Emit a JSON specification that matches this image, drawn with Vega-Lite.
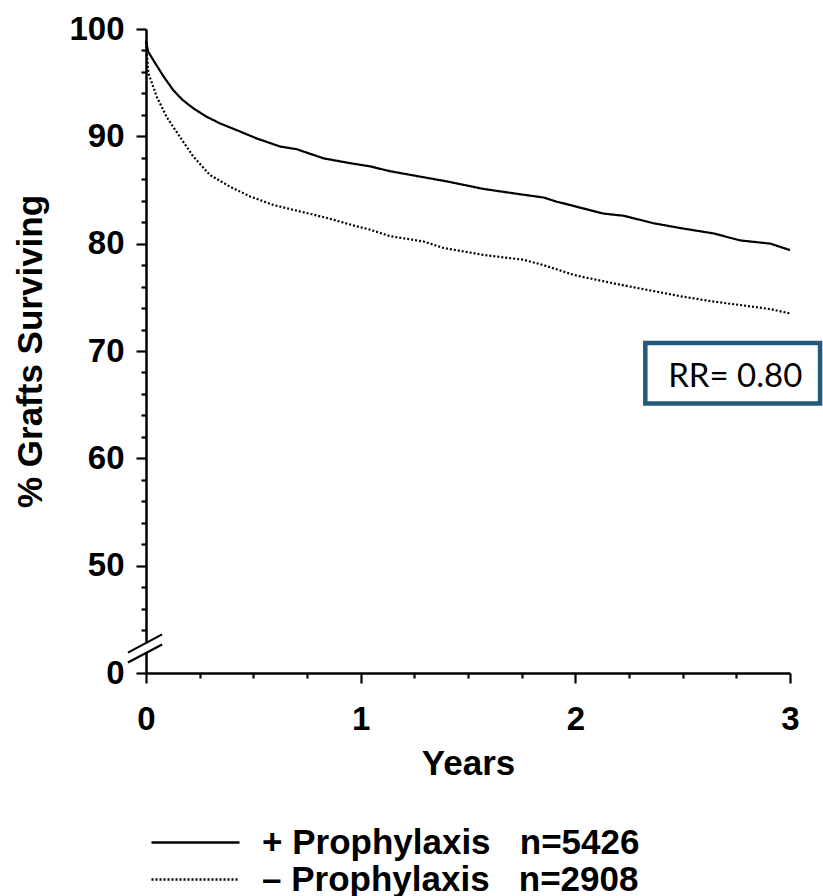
{
  "$schema": "https://vega.github.io/schema/vega-lite/v6.json",
  "width": 644,
  "height": 644,
  "autosize": {"type": "none"},
  "padding": {"left": 146, "top": 29, "right": 33, "bottom": 223},
  "background": "white",
  "config": {
    "view": {"stroke": null},
    "font": "Liberation Sans",
    "axis": {
      "grid": false,
      "domainColor": "black",
      "domainWidth": 2.5,
      "tickColor": "black",
      "tickWidth": 2.2,
      "labelColor": "black",
      "labelFont": "Liberation Sans",
      "labelFontWeight": "bold",
      "labelFontSize": 33,
      "titleColor": "black",
      "titleFont": "Liberation Sans",
      "titleFontWeight": "bold",
      "titleFontSize": 35
    }
  },
  "resolve": {"scale": {"y": "shared"}, "axis": {"y": "independent"}},
  "data": {
    "values": [
      {"t": 0, "s": 98.9, "g": "+ Prophylaxis\u00a0\u00a0\u00a0n=5426"},
      {"t": 0.01, "s": 97.9, "g": "+ Prophylaxis\u00a0\u00a0\u00a0n=5426"},
      {"t": 0.034, "s": 97.1, "g": "+ Prophylaxis\u00a0\u00a0\u00a0n=5426"},
      {"t": 0.081, "s": 95.6, "g": "+ Prophylaxis\u00a0\u00a0\u00a0n=5426"},
      {"t": 0.127, "s": 94.3, "g": "+ Prophylaxis\u00a0\u00a0\u00a0n=5426"},
      {"t": 0.17, "s": 93.4, "g": "+ Prophylaxis\u00a0\u00a0\u00a0n=5426"},
      {"t": 0.221, "s": 92.6, "g": "+ Prophylaxis\u00a0\u00a0\u00a0n=5426"},
      {"t": 0.28, "s": 91.85, "g": "+ Prophylaxis\u00a0\u00a0\u00a0n=5426"},
      {"t": 0.345, "s": 91.2, "g": "+ Prophylaxis\u00a0\u00a0\u00a0n=5426"},
      {"t": 0.438, "s": 90.45, "g": "+ Prophylaxis\u00a0\u00a0\u00a0n=5426"},
      {"t": 0.516, "s": 89.8, "g": "+ Prophylaxis\u00a0\u00a0\u00a0n=5426"},
      {"t": 0.625, "s": 89.05, "g": "+ Prophylaxis\u00a0\u00a0\u00a0n=5426"},
      {"t": 0.702, "s": 88.8, "g": "+ Prophylaxis\u00a0\u00a0\u00a0n=5426"},
      {"t": 0.827, "s": 87.95, "g": "+ Prophylaxis\u00a0\u00a0\u00a0n=5426"},
      {"t": 0.951, "s": 87.5, "g": "+ Prophylaxis\u00a0\u00a0\u00a0n=5426"},
      {"t": 1.044, "s": 87.2, "g": "+ Prophylaxis\u00a0\u00a0\u00a0n=5426"},
      {"t": 1.137, "s": 86.75, "g": "+ Prophylaxis\u00a0\u00a0\u00a0n=5426"},
      {"t": 1.262, "s": 86.3, "g": "+ Prophylaxis\u00a0\u00a0\u00a0n=5426"},
      {"t": 1.402, "s": 85.8, "g": "+ Prophylaxis\u00a0\u00a0\u00a0n=5426"},
      {"t": 1.572, "s": 85.1, "g": "+ Prophylaxis\u00a0\u00a0\u00a0n=5426"},
      {"t": 1.744, "s": 84.6, "g": "+ Prophylaxis\u00a0\u00a0\u00a0n=5426"},
      {"t": 1.852, "s": 84.3, "g": "+ Prophylaxis\u00a0\u00a0\u00a0n=5426"},
      {"t": 1.915, "s": 83.9, "g": "+ Prophylaxis\u00a0\u00a0\u00a0n=5426"},
      {"t": 1.977, "s": 83.6, "g": "+ Prophylaxis\u00a0\u00a0\u00a0n=5426"},
      {"t": 2.023, "s": 83.35, "g": "+ Prophylaxis\u00a0\u00a0\u00a0n=5426"},
      {"t": 2.132, "s": 82.8, "g": "+ Prophylaxis\u00a0\u00a0\u00a0n=5426"},
      {"t": 2.225, "s": 82.6, "g": "+ Prophylaxis\u00a0\u00a0\u00a0n=5426"},
      {"t": 2.365, "s": 81.9, "g": "+ Prophylaxis\u00a0\u00a0\u00a0n=5426"},
      {"t": 2.49, "s": 81.45, "g": "+ Prophylaxis\u00a0\u00a0\u00a0n=5426"},
      {"t": 2.645, "s": 80.95, "g": "+ Prophylaxis\u00a0\u00a0\u00a0n=5426"},
      {"t": 2.769, "s": 80.3, "g": "+ Prophylaxis\u00a0\u00a0\u00a0n=5426"},
      {"t": 2.909, "s": 80.0, "g": "+ Prophylaxis\u00a0\u00a0\u00a0n=5426"},
      {"t": 3.0, "s": 79.4, "g": "+ Prophylaxis\u00a0\u00a0\u00a0n=5426"},
      {"t": 0, "s": 98.8, "g": "\u2013 Prophylaxis\u00a0\u00a0\u00a0n=2908"},
      {"t": 0.011, "s": 95.9, "g": "\u2013 Prophylaxis\u00a0\u00a0\u00a0n=2908"},
      {"t": 0.05, "s": 93.7, "g": "\u2013 Prophylaxis\u00a0\u00a0\u00a0n=2908"},
      {"t": 0.096, "s": 91.8, "g": "\u2013 Prophylaxis\u00a0\u00a0\u00a0n=2908"},
      {"t": 0.158, "s": 89.95, "g": "\u2013 Prophylaxis\u00a0\u00a0\u00a0n=2908"},
      {"t": 0.221, "s": 88.1, "g": "\u2013 Prophylaxis\u00a0\u00a0\u00a0n=2908"},
      {"t": 0.298, "s": 86.4, "g": "\u2013 Prophylaxis\u00a0\u00a0\u00a0n=2908"},
      {"t": 0.392, "s": 85.3, "g": "\u2013 Prophylaxis\u00a0\u00a0\u00a0n=2908"},
      {"t": 0.485, "s": 84.4, "g": "\u2013 Prophylaxis\u00a0\u00a0\u00a0n=2908"},
      {"t": 0.594, "s": 83.6, "g": "\u2013 Prophylaxis\u00a0\u00a0\u00a0n=2908"},
      {"t": 0.718, "s": 83.0, "g": "\u2013 Prophylaxis\u00a0\u00a0\u00a0n=2908"},
      {"t": 0.842, "s": 82.4, "g": "\u2013 Prophylaxis\u00a0\u00a0\u00a0n=2908"},
      {"t": 0.966, "s": 81.7, "g": "\u2013 Prophylaxis\u00a0\u00a0\u00a0n=2908"},
      {"t": 1.044, "s": 81.3, "g": "\u2013 Prophylaxis\u00a0\u00a0\u00a0n=2908"},
      {"t": 1.137, "s": 80.7, "g": "\u2013 Prophylaxis\u00a0\u00a0\u00a0n=2908"},
      {"t": 1.293, "s": 80.2, "g": "\u2013 Prophylaxis\u00a0\u00a0\u00a0n=2908"},
      {"t": 1.386, "s": 79.6, "g": "\u2013 Prophylaxis\u00a0\u00a0\u00a0n=2908"},
      {"t": 1.572, "s": 78.95, "g": "\u2013 Prophylaxis\u00a0\u00a0\u00a0n=2908"},
      {"t": 1.759, "s": 78.5, "g": "\u2013 Prophylaxis\u00a0\u00a0\u00a0n=2908"},
      {"t": 1.852, "s": 78.0, "g": "\u2013 Prophylaxis\u00a0\u00a0\u00a0n=2908"},
      {"t": 1.992, "s": 77.1, "g": "\u2013 Prophylaxis\u00a0\u00a0\u00a0n=2908"},
      {"t": 2.023, "s": 76.95, "g": "\u2013 Prophylaxis\u00a0\u00a0\u00a0n=2908"},
      {"t": 2.179, "s": 76.3, "g": "\u2013 Prophylaxis\u00a0\u00a0\u00a0n=2908"},
      {"t": 2.334, "s": 75.7, "g": "\u2013 Prophylaxis\u00a0\u00a0\u00a0n=2908"},
      {"t": 2.49, "s": 75.1, "g": "\u2013 Prophylaxis\u00a0\u00a0\u00a0n=2908"},
      {"t": 2.645, "s": 74.6, "g": "\u2013 Prophylaxis\u00a0\u00a0\u00a0n=2908"},
      {"t": 2.8, "s": 74.2, "g": "\u2013 Prophylaxis\u00a0\u00a0\u00a0n=2908"},
      {"t": 2.909, "s": 73.9, "g": "\u2013 Prophylaxis\u00a0\u00a0\u00a0n=2908"},
      {"t": 3.0, "s": 73.5, "g": "\u2013 Prophylaxis\u00a0\u00a0\u00a0n=2908"}
    ]
  },
  "layer": [
    {
      "mark": {"type": "line", "color": "black", "strokeWidth": 2.2},
      "encoding": {
        "x": {
          "field": "t",
          "type": "quantitative",
          "scale": {"domain": [0, 3], "nice": false, "zero": false},
          "axis": {
            "title": "Years",
            "values": [0, 0.25, 0.5, 0.75, 1, 1.25, 1.5, 1.75, 2, 2.25, 2.5, 2.75, 3],
            "labelExpr": "datum.value % 1 === 0 ? format(datum.value, 'd') : ''",
            "tickSize": {"condition": {"test": "datum.value % 1 === 0", "value": 10}, "value": 5},
            "labelPadding": 20,
            "titlePadding": 10,
            "labelFlush": false,
            "labelOverlap": false
          }
        },
        "y": {
          "field": "s",
          "type": "quantitative",
          "scale": {"domain": [40, 100], "nice": false, "zero": false},
          "axis": {
            "orient": "left",
            "title": "% Grafts Surviving",
            "values": [40, 50, 60, 70, 80, 90, 100],
            "labelExpr": "datum.value === 40 ? '0' : format(datum.value, 'd')",
            "tickSize": 10,
            "labelPadding": 12,
            "titlePadding": 20,
            "labelFlush": false,
            "labelOverlap": false
          }
        },
        "strokeDash": {
          "field": "g",
          "type": "nominal",
          "scale": {
            "domain": ["+ Prophylaxis\u00a0\u00a0\u00a0n=5426", "\u2013 Prophylaxis\u00a0\u00a0\u00a0n=2908"],
            "range": [[1, 0], [2, 2]]
          },
          "legend": {
            "title": null,
            "orient": "none",
            "direction": "vertical",
            "legendX": 4,
            "legendY": 795,
            "padding": 0,
            "rowPadding": 0,
            "clipHeight": 37,
            "symbolType": "stroke",
            "symbolSize": 7744,
            "symbolStrokeWidth": 2.6,
            "symbolStrokeColor": "black",
            "labelFont": "Liberation Sans",
            "labelFontWeight": "bold",
            "labelFontSize": 35,
            "labelColor": "black",
            "labelOffset": 21,
            "labelLimit": 0
          }
        }
      }
    },
    {
      "data": {"values": [{}]},
      "mark": {"type": "rule", "color": "white", "strokeWidth": 5},
      "encoding": {
        "x": {"datum": 0, "type": "quantitative"},
        "y": {
          "datum": 41.9,
          "type": "quantitative",
          "axis": {
            "orient": "left",
            "title": null,
            "values": [44, 46, 48, 52, 54, 56, 58, 62, 64, 66, 68, 72, 74, 76, 78, 82, 84, 86, 88, 92, 94, 96, 98],
            "labels": false,
            "domain": false,
            "tickSize": 5
          }
        },
        "y2": {"datum": 42.75}
      }
    },
    {
      "data": {"values": [{}]},
      "mark": {"type": "rule", "color": "black", "strokeWidth": 2.2},
      "encoding": {
        "x": {"datum": -0.084, "type": "quantitative"},
        "x2": {"datum": 0.075},
        "y": {"datum": 41.9, "type": "quantitative", "axis": null},
        "y2": {"datum": 43.6}
      }
    },
    {
      "data": {"values": [{}]},
      "mark": {"type": "rule", "color": "black", "strokeWidth": 2.2},
      "encoding": {
        "x": {"datum": -0.084, "type": "quantitative"},
        "x2": {"datum": 0.075},
        "y": {"datum": 40.97, "type": "quantitative", "axis": null},
        "y2": {"datum": 42.65}
      }
    },
    {
      "data": {"values": [{}]},
      "mark": {"type": "rect", "fill": "white", "stroke": "#235b7e", "strokeWidth": 4.5},
      "encoding": {
        "x": {"datum": 2.326, "type": "quantitative"},
        "x2": {"datum": 3.14},
        "y": {"datum": 70.74, "type": "quantitative", "axis": null},
        "y2": {"datum": 65.1}
      }
    },
    {
      "data": {"values": [{"label": "RR= 0.80"}]},
      "mark": {"type": "text", "font": "Lato", "fontSize": 33, "align": "center", "baseline": "alphabetic", "color": "black"},
      "encoding": {
        "x": {"datum": 2.745, "type": "quantitative"},
        "y": {"datum": 66.67, "type": "quantitative", "axis": null},
        "text": {"field": "label"}
      }
    }
  ]
}
